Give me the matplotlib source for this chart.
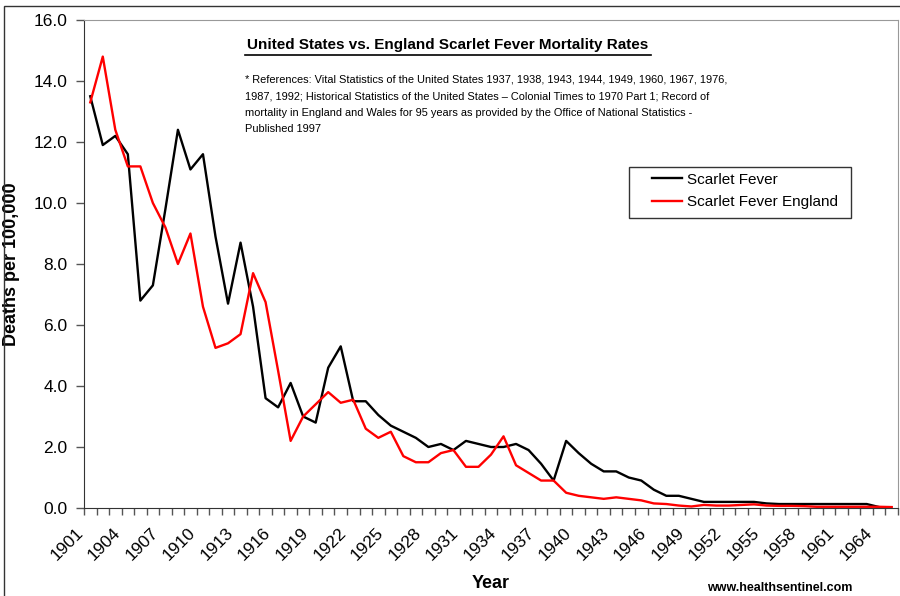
import numpy as np
import matplotlib.pyplot as plt
from matplotlib.patches import Rectangle
from matplotlib.transforms import ScaledTranslation

plt.rcParams['font.family'] = ['Liberation Sans', 'DejaVu Sans']

# Aar 1901-1965
aar = list(range(1901, 1966))

# USA (svart linje), mangler verdi for 1965
usa = [13.5, 11.9, 12.2, 11.6, 6.8, 7.3, 9.8, 12.4, 11.1, 11.6,
       8.9, 6.7, 8.7, 6.6, 3.6, 3.3, 4.1, 3.0, 2.8, 4.6,
       5.3, 3.5, 3.5, 3.05, 2.7, 2.5, 2.3, 2.0, 2.1, 1.9,
       2.2, 2.1, 2.0, 2.0, 2.1, 1.9, 1.45, 0.9, 2.2, 1.8,
       1.45, 1.2, 1.2, 1.0, 0.9, 0.6, 0.4, 0.4, 0.3, 0.2,
       0.2, 0.2, 0.2, 0.2, 0.15, 0.13, 0.13, 0.13, 0.13, 0.13,
       0.13, 0.13, 0.13, 0.03, np.nan]

# England (rod linje)
england = [13.3, 14.8, 12.4, 11.2, 11.2, 10.0, 9.2, 8.0, 9.0, 6.6,
           5.25, 5.4, 5.7, 7.7, 6.75, 4.5, 2.2, 3.0, 3.4, 3.8,
           3.45, 3.55, 2.6, 2.3, 2.5, 1.7, 1.5, 1.5, 1.8, 1.9,
           1.35, 1.35, 1.75, 2.35, 1.4, 1.15, 0.9, 0.9, 0.5, 0.4,
           0.35, 0.3, 0.35, 0.3, 0.25, 0.15, 0.13, 0.08, 0.05, 0.1,
           0.08, 0.08, 0.1, 0.12, 0.08, 0.07, 0.07, 0.06, 0.04, 0.04,
           0.04, 0.04, 0.04, 0.04, 0.03]

x = np.arange(len(aar))

fig = plt.figure(figsize=(9, 5.96), dpi=100)
ax = fig.add_axes([84/900, 1 - 508/596, 814/900, 488/596])

ax.plot(x, usa, color='black', lw=1.7, label='Scarlet Fever')
ax.plot(x, england, color='#ff0000', lw=1.7, label='Scarlet Fever England')

ax.set_xlim(-0.5, len(aar) - 0.5)
ax.set_ylim(0, 16)
ax.set_yticks(np.arange(0, 16.1, 2))
ax.set_yticklabels([f'{v:.1f}' for v in np.arange(0, 16.1, 2)], fontsize=12.5)
ax.tick_params(axis='y', direction='out', length=6, width=1, color='#555555', pad=6)

# kategorigrenser som sma streker, aarstall for hvert 3. aar
ax.set_xticks(np.arange(-0.5, len(aar), 1), minor=True)
ax.tick_params(axis='x', which='minor', direction='out', length=5, width=1, color='#555555')
ax.set_xticks(x[::3])
ax.set_xticklabels([str(a) for a in aar[::3]], rotation=45, ha='right',
                   rotation_mode='anchor', fontsize=12.5)
ax.tick_params(axis='x', which='major', length=0, pad=12)
forskyv = ScaledTranslation(-15/100, 0, fig.dpi_scale_trans)
for lab in ax.get_xticklabels():
    lab.set_transform(lab.get_transform() + forskyv)

for s in ['left', 'bottom']:
    ax.spines[s].set_color('#333333')
for s in ['top', 'right']:
    ax.spines[s].set_color('#999999')

ax.set_ylabel('Deaths per 100,000', fontsize=13, fontweight='bold')
ax.yaxis.set_label_coords((20 - 84)/814, 0.5)
ax.set_xlabel('Year', fontsize=13, fontweight='bold')
ax.xaxis.set_label_coords(0.5, -(575 - 508)/488)

fig.text(448/900, 1 - 45/596, 'United States vs. England Scarlet Fever Mortality Rates',
         ha='center', va='center', fontsize=11.0, fontweight='bold')
fig.add_artist(plt.Line2D([245/900, 651/900], [1 - 55/596, 1 - 55/596],
                          color='black', lw=1.2))

ref = ("* References: Vital Statistics of the United States 1937, 1938, 1943, 1944, 1949, 1960, 1967, 1976,\n"
       "1987, 1992; Historical Statistics of the United States \u2013 Colonial Times to 1970 Part 1; Record of\n"
       "mortality in England and Wales for 95 years as provided by the Office of National Statistics -\n"
       "Published 1997")
fig.text(245/900, 1 - 75/596, ref, ha='left', va='top', fontsize=7.9,
         linespacing=1.8)

leg = ax.legend(loc='upper left', bbox_to_anchor=((647 - 84)/814, 1 - (168 - 20)/488),
                fontsize=11, frameon=False, handlelength=2.0,
                handletextpad=0.3, borderpad=0.3, labelspacing=0.55, borderaxespad=0)
fig.add_artist(Rectangle((629/900, 1 - 218/596), 222/900, 51/596, transform=fig.transFigure,
                         fill=False, edgecolor='#333333', lw=1))

fig.text(780/900, 1 - 588/596, 'www.healthsentinel.com', ha='center', va='center',
         fontsize=9, fontweight='bold')

fig.add_artist(Rectangle((4/900, -0.1), 1.2, 1 - 6/596 + 0.1, transform=fig.transFigure,
                         fill=False, edgecolor='#333333', lw=1))

fig.savefig('out.png', dpi=100)
